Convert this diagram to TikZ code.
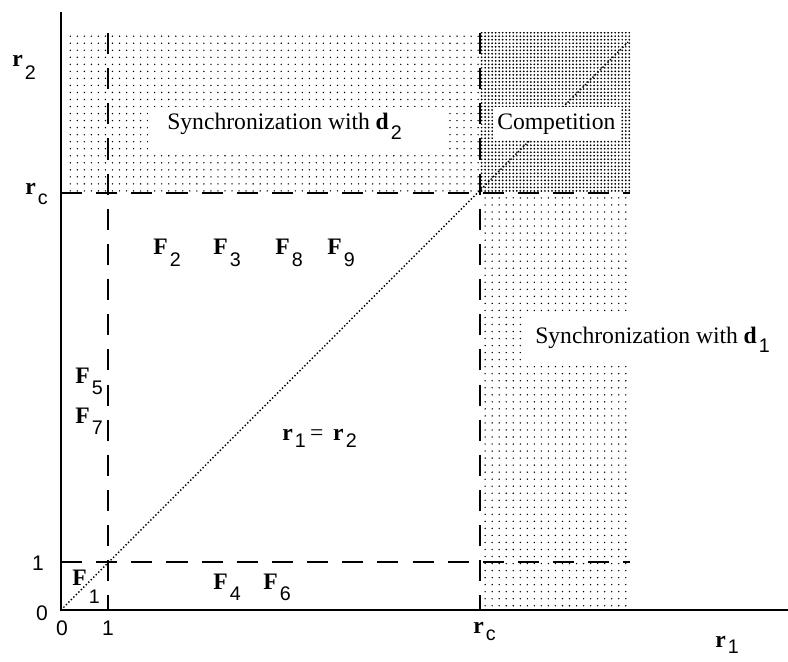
\documentclass[tikz,border=0pt]{standalone}
\usepackage{fontspec}
\setmainfont{Liberation Serif}
\setsansfont{Liberation Sans}
\usetikzlibrary{patterns.meta}

\newcommand{\symb}[3][8.5pt]{\textbf{#2}\hspace{1.5pt}\raisebox{-#1}{\sffamily\fontsize{14}{15}\selectfont #3}}

\begin{document}
\begin{tikzpicture}[
    x=0.025cm, y=-0.025cm,
    font=\fontsize{16.8}{19}\selectfont,
    axisline/.style={line width=1.4pt},
    guide/.style={line width=1.1pt, dash pattern=on 15pt off 10pt},
    diag/.style={line width=1pt, dash pattern=on 1pt off 1.5pt},
    sparsedots/.style={pattern={Dots[distance=5pt, radius=0.55pt]}},
    densedots/.style={pattern={Dots[distance=2.5pt, radius=0.7pt]}},
    knock/.style={fill=white},
    sym/.style={anchor=base west, inner sep=0pt},
    num/.style={anchor=base, inner sep=0pt, font=\sffamily\fontsize{15}{16}\selectfont}
]
    \useasboundingbox (0,0) rectangle (788,662);

    \coordinate (o) at (61,610);
    \coordinate (ytop) at (61,12);
    \coordinate (xend) at (788,610);
    \coordinate (one) at (108,610);
    \coordinate (onetop) at (108,33);
    \coordinate (rc) at (480,610);
    \coordinate (rctop) at (480,33);
    \coordinate (yone) at (61,562);
    \coordinate (yoneend) at (630,562);
    \coordinate (yrc) at (61,193);
    \coordinate (yrcend) at (630,193);
    \coordinate (dend) at (628,42);

    \fill [sparsedots] (67,33) rectangle (480,193);
    \fill [densedots] (480,33) rectangle (630,193);
    \fill [sparsedots] (480,193) rectangle (630,610);

    \draw [axisline] (ytop) -- (o) -- (xend);
    \draw [guide] (onetop) -- (one);
    \draw [guide] (rctop) -- (rc);
    \draw [guide] (yrc) -- (yrcend);
    \draw [guide] (yone) -- (yoneend);
    \draw [diag] (o) -- (dend);

    \fill [knock] (148,107) rectangle (448,150);
    \fill [knock] (493,107) rectangle (620,140);
    \fill [knock] (523,315) rectangle (632,365);

    \node [sym] (syncd2) at (167,130) {Synchronization with\hspace{4pt}\symb[7pt]{d}{2}};
    \node [sym] (comp) at (497,130) {Competition};
    \node [sym] (syncd1) at (535,343) {Synchronization with\hspace{4pt}\symb[7pt]{d}{1}};

    \node [sym] (rtwo) at (12,67) {\symb[9pt]{r}{2}};
    \node [sym] (rcleft) at (25,195) {\symb[7pt]{r}{c}};
    \node [sym] (rcbot) at (473,633) {\symb[5pt]{r}{c}};
    \node [sym] (rone) at (715,647) {\symb[4.5pt]{r}{1}};

    \node [sym] (f2) at (153,255) {\symb{F}{2}};
    \node [sym] (f3) at (213,255) {\symb{F}{3}};
    \node [sym] (f8) at (275,255) {\symb{F}{8}};
    \node [sym] (f9) at (327,255) {\symb{F}{9}};
    \node [sym] (f5) at (75,383) {\symb{F}{5}};
    \node [sym] (f7) at (75,423) {\symb{F}{7}};
    \node [sym] (f1) at (72,585) {\symb[12.8pt]{F}{1}};
    \node [sym] (f4) at (213,589) {\symb{F}{4}};
    \node [sym] (f6) at (263,589) {\symb{F}{6}};
    \node [sym] (eq) at (282,440) {\symb[5pt]{r}{1}\hspace{3pt}=\hspace{7pt}\symb[5pt]{r}{2}};

    \node [num] (ylone) at (38,570) {1};
    \node [num] (ylzero) at (42,620) {0};
    \node [num] (xlzero) at (62,635) {0};
    \node [num] (xlone) at (108,635) {1};
\end{tikzpicture}
\end{document}
